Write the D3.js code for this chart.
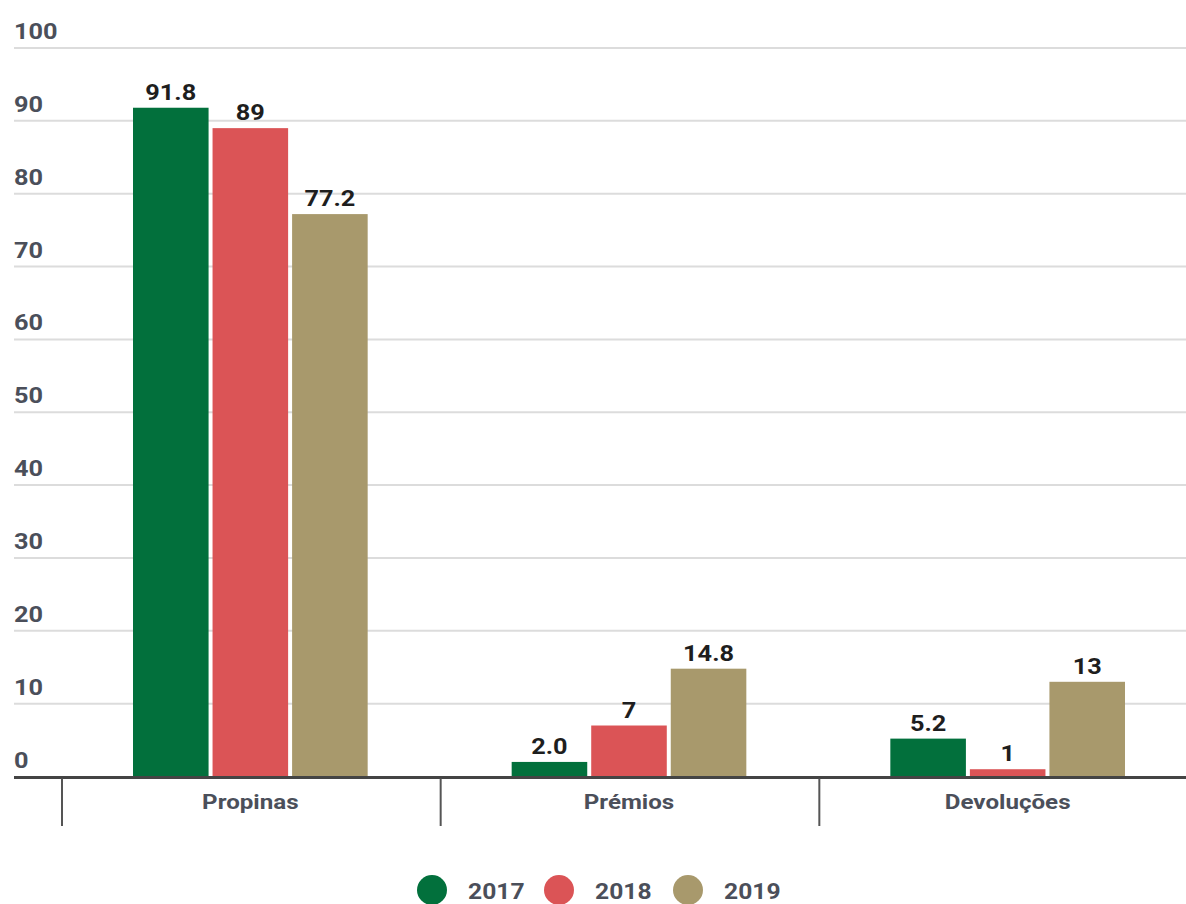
<!DOCTYPE html>
<html>
<head>
<meta charset="utf-8">
<script src="https://cdn.jsdelivr.net/npm/d3@7"></script>
<style>
  html, body { margin: 0; padding: 0; background: #fff; }
  svg { display: block; font-family: Roboto, "Noto Sans", sans-serif; }
</style>
</head>
<body>
<svg id="chart" width="1186" height="904"></svg>
<script>
// Categories, series and values
const categories = ["Propinas", "Prémios", "Devoluções"];
const years = ["2017", "2018", "2019"];
const values2017 = [91.8, 2.0, 5.2];
const values2018 = [89, 7, 1];
const values2019 = [77.2, 14.8, 13];
const valueLabels2017 = ["91.8", "2.0", "5.2"];
const valueLabels2018 = ["89", "7", "1"];
const valueLabels2019 = ["77.2", "14.8", "13"];
const yTicks = [0, 10, 20, 30, 40, 50, 60, 70, 80, 90, 100];
const colors = ["#02703c", "#db5456", "#a8996c"];

const seriesValues = [values2017, values2018, values2019];
const seriesLabels = [valueLabels2017, valueLabels2018, valueLabels2019];

// Text is drawn slightly widened horizontally
const textStretch = 1.15;
const placeText = (sel, fx, fy, sx = textStretch) =>
  sel.attr("transform", (d, i) => `translate(${fx(d, i)},${fy(d, i)}) scale(${sx},1)`);

const svg = d3.select("#chart");

const y = d3.scaleLinear().domain([0, 100]).range([776.5, 48]);
const x0 = d3.scaleBand().domain(categories).range([61, 1197]).padding(0);
const groupPad = 72;
const x1 = d3.scaleBand().domain(years)
  .range([groupPad, x0.bandwidth() - groupPad]).paddingInner(0.05);
const color = d3.scaleOrdinal().domain(years).range(colors);

// Horizontal gridlines
svg.append("g").selectAll("line").data(yTicks.filter(d => d > 0)).join("line")
  .attr("x1", 14).attr("x2", 1186)
  .attr("y1", d => y(d)).attr("y2", d => y(d))
  .attr("stroke", "#dcdcdc").attr("stroke-width", 2);

// Y tick labels sit above their gridlines
svg.append("g").selectAll("text").data(yTicks).join("text")
  .call(placeText, () => 14, d => y(d) - 9)
  .attr("fill", "#4b4f5a").attr("font-size", 22).attr("font-weight", 700)
  .text(d => d);

// Bars
const rows = categories.map((c, i) => ({
  category: c,
  items: years.map((yr, j) => ({ year: yr, value: seriesValues[j][i], label: seriesLabels[j][i] }))
}));

const groups = svg.append("g").selectAll("g").data(rows).join("g")
  .attr("transform", d => `translate(${x0(d.category)},0)`);

groups.selectAll("rect").data(d => d.items).join("rect")
  .attr("x", d => x1(d.year))
  .attr("width", x1.bandwidth())
  .attr("y", d => y(d.value))
  .attr("height", d => y(0) - y(d.value))
  .attr("fill", d => color(d.year));

groups.selectAll("text").data(d => d.items).join("text")
  .call(placeText, d => x1(d.year) + x1.bandwidth() / 2, d => y(d.value) - 8)
  .attr("text-anchor", "middle")
  .attr("fill", "#1e1e1e").attr("font-size", 22).attr("font-weight", 700)
  .text(d => d.label);

// X axis baseline, dividers and category labels
svg.append("line")
  .attr("x1", 14).attr("x2", 1186)
  .attr("y1", y(0) + 1).attr("y2", y(0) + 1)
  .attr("stroke", "#444").attr("stroke-width", 3);

svg.append("g").selectAll("line").data(categories).join("line")
  .attr("x1", d => x0(d) + 1).attr("x2", d => x0(d) + 1)
  .attr("y1", y(0) + 2).attr("y2", 826)
  .attr("stroke", "#555").attr("stroke-width", 2);

svg.append("g").selectAll("text").data(categories).join("text")
  .call(placeText, d => x0(d) + x0.bandwidth() / 2, () => 809)
  .attr("text-anchor", "middle")
  .attr("fill", "#4b4f5a").attr("font-size", 21).attr("font-weight", 700)
  .text(d => d);

// Legend
const legendX = [432, 559, 688];
const legend = svg.append("g").selectAll("g").data(years).join("g")
  .attr("transform", (d, i) => `translate(${legendX[i]},890)`);
legend.append("circle").attr("r", 15).attr("fill", d => color(d));
legend.append("text")
  .call(placeText, () => 36, () => 9, 1.12)
  .attr("fill", "#4b4f5a").attr("font-size", 22).attr("font-weight", 700)
  .text(d => d);
</script>
</body>
</html>
